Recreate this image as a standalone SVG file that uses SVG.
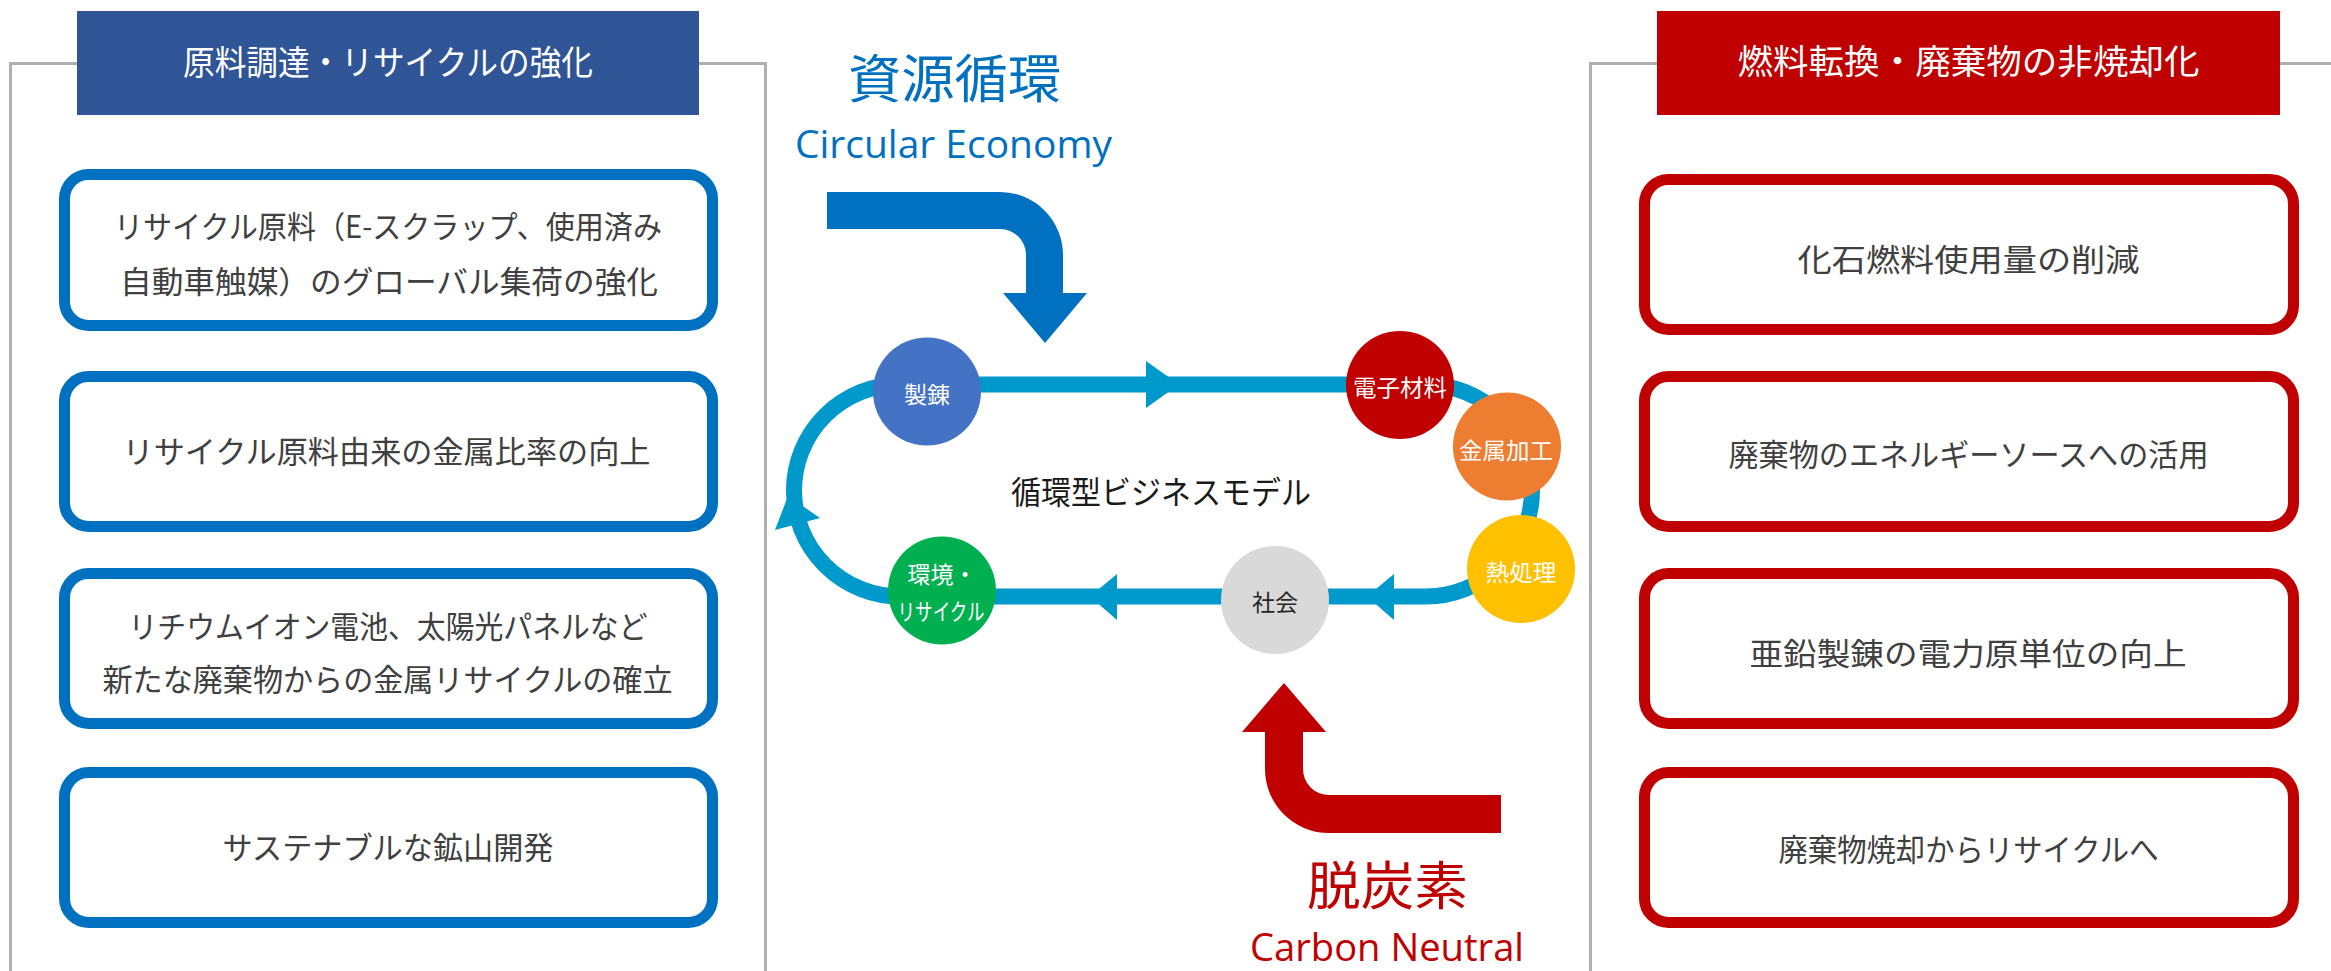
<svg xmlns="http://www.w3.org/2000/svg" width="2331" height="971" viewBox="0 0 2331 971">
<style>
text{font-family:"Noto Sans CJK JP","Noto Sans",sans-serif;text-anchor:middle}
.panel{fill:none;stroke:#AFAFAF;stroke-width:3}
.hdr{fill:#FFFFFF;font-size:34px}
.bbox{fill:#FFFFFF;stroke:#0070C0;stroke-width:11}
.rbox{fill:#FFFFFF;stroke:#C00000;stroke-width:11}
.btxt{fill:#404040;font-size:31px}
.ntxt{fill:#FFFFFF;font-size:23px}
.loop{fill:none;stroke:#0099CC;stroke-width:16}
.ah{fill:#0099CC}
.latin{font-family:"Open Sans","Noto Sans",sans-serif;font-size:39px}
</style>

<g id="left-panel">
  <rect class="panel" x="10.5" y="63.5" width="755" height="920"/>
  <rect x="77" y="11" width="622" height="104" fill="#2F5597"/>
  <text class="hdr" x="388" y="75" textLength="410" lengthAdjust="spacingAndGlyphs">原料調達・リサイクルの強化</text>
</g>

<g id="right-panel">
  <rect class="panel" x="1590.5" y="63.5" width="800" height="920"/>
  <rect x="1657" y="11" width="623" height="104" fill="#C00000"/>
  <text class="hdr" x="1968.5" y="74" textLength="462" lengthAdjust="spacingAndGlyphs">燃料転換・廃棄物の非焼却化</text>
</g>

<g id="box-l1">
  <rect class="bbox" x="64.5" y="174.5" width="648" height="151" rx="24"/>
  <text class="btxt" x="388" y="238" textLength="548" lengthAdjust="spacingAndGlyphs">リサイクル原料（E-スクラップ、使用済み</text>
  <text class="btxt" x="389" y="293" textLength="538" lengthAdjust="spacingAndGlyphs">自動車触媒）のグローバル集荷の強化</text>
</g>
<g id="box-l2">
  <rect class="bbox" x="64.5" y="376.5" width="648" height="150" rx="24"/>
  <text class="btxt" x="386.5" y="463" textLength="528" lengthAdjust="spacingAndGlyphs">リサイクル原料由来の金属比率の向上</text>
</g>
<g id="box-l3">
  <rect class="bbox" x="64.5" y="573.5" width="648" height="150" rx="24"/>
  <text class="btxt" x="388" y="638" textLength="519" lengthAdjust="spacingAndGlyphs">リチウムイオン電池、太陽光パネルなど</text>
  <text class="btxt" x="387.5" y="691" textLength="570" lengthAdjust="spacingAndGlyphs">新たな廃棄物からの金属リサイクルの確立</text>
</g>
<g id="box-l4">
  <rect class="bbox" x="64.5" y="772.5" width="648" height="150" rx="24"/>
  <text class="btxt" x="388" y="859" textLength="331" lengthAdjust="spacingAndGlyphs">サステナブルな鉱山開発</text>
</g>

<g id="box-r1">
  <rect class="rbox" x="1644.5" y="179.5" width="649" height="150" rx="24"/>
  <text class="btxt" x="1968.5" y="271" textLength="342" lengthAdjust="spacingAndGlyphs">化石燃料使用量の削減</text>
</g>
<g id="box-r2">
  <rect class="rbox" x="1644.5" y="376.5" width="649" height="150" rx="24"/>
  <text class="btxt" x="1968.5" y="466" textLength="480" lengthAdjust="spacingAndGlyphs">廃棄物のエネルギーソースへの活用</text>
</g>
<g id="box-r3">
  <rect class="rbox" x="1644.5" y="573.5" width="649" height="150" rx="24"/>
  <text class="btxt" x="1968" y="665" textLength="437" lengthAdjust="spacingAndGlyphs">亜鉛製錬の電力原単位の向上</text>
</g>
<g id="box-r4">
  <rect class="rbox" x="1644.5" y="772.5" width="649" height="150" rx="24"/>
  <text class="btxt" x="1968.5" y="861" textLength="380" lengthAdjust="spacingAndGlyphs">廃棄物焼却からリサイクルへ</text>
</g>

<g id="circular-economy">
  <text x="954.5" y="98" font-size="52" fill="#0070C0" textLength="213" lengthAdjust="spacingAndGlyphs">資源循環</text>
  <text class="latin" x="953.5" y="158" fill="#0070C0" textLength="317" lengthAdjust="spacingAndGlyphs">Circular Economy</text>
  <path d="M827 192 L1000 192 A63 63 0 0 1 1063 255 L1063 293 L1087 293 L1045 343 L1003 293 L1026 293 L1026 255 A26 26 0 0 0 1000 229 L827 229 Z" fill="#0070C0"/>
</g>

<g id="carbon-neutral">
  <path d="M1501 795 L1329 795 A26 26 0 0 1 1303 769 L1303 732 L1326 732 L1284 683 L1242 732 L1265 732 L1265 769 A64 64 0 0 0 1329 833 L1501 833 Z" fill="#C00000"/>
  <text x="1387.5" y="905" font-size="52" fill="#C00000" textLength="161" lengthAdjust="spacingAndGlyphs">脱炭素</text>
  <text class="latin" x="1387" y="961" fill="#C00000" textLength="274" lengthAdjust="spacingAndGlyphs">Carbon Neutral</text>
</g>

<g id="connectors">
  <path class="loop" d="M900 384.5 L1426 384.5 A106 106 0 0 1 1426 596.5 L900 596.5 A106 106 0 0 1 900 384.5 Z"/>
  <polygon class="ah" points="1146,361 1179,384.5 1146,408"/>
  <polygon class="ah" points="1394,574 1367,596.5 1394,620"/>
  <polygon class="ah" points="1117,574 1090,596.5 1117,620"/>
  <polygon class="ah" points="775,530 820,518 788,496"/>
</g>

<g id="model-label">
  <text x="1161" y="504" font-size="32" fill="#1A1A1A" textLength="300" lengthAdjust="spacingAndGlyphs">循環型ビジネスモデル</text>
</g>

<g id="node-seiren">
  <circle cx="927" cy="391.5" r="54" fill="#4472C4"/>
  <text class="ntxt" x="927" y="403">製錬</text>
</g>
<g id="node-denshi">
  <circle cx="1400" cy="385" r="54" fill="#C00000"/>
  <text class="ntxt" x="1400" y="396" textLength="94" lengthAdjust="spacingAndGlyphs">電子材料</text>
</g>
<g id="node-kinzoku">
  <circle cx="1507" cy="446.5" r="54" fill="#ED7D31"/>
  <text class="ntxt" x="1506" y="459" textLength="94" lengthAdjust="spacingAndGlyphs">金属加工</text>
</g>
<g id="node-netsu">
  <circle cx="1521" cy="569" r="54" fill="#FFC000"/>
  <text class="ntxt" x="1521" y="581" textLength="71" lengthAdjust="spacingAndGlyphs">熱処理</text>
</g>
<g id="node-shakai">
  <circle cx="1275" cy="600" r="54" fill="#D9D9D9"/>
  <text class="ntxt" x="1275" y="611" style="fill:#262626">社会</text>
</g>
<g id="node-kankyo">
  <circle cx="942" cy="590.5" r="54" fill="#00B050"/>
  <text class="ntxt" x="942" y="583">環境・</text>
  <text class="ntxt" x="941" y="620" textLength="87" lengthAdjust="spacingAndGlyphs">リサイクル</text>
</g>
</svg>
